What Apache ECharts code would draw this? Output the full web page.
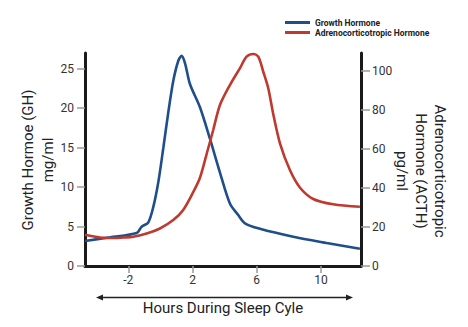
<!DOCTYPE html>
<html>
<head>
<meta charset="utf-8">
<script src="https://cdn.jsdelivr.net/npm/echarts@6/dist/echarts.min.js"></script>
<style>
html,body{margin:0;padding:0;background:#fff;}
#chart{width:468px;height:327px;}
</style>
</head>
<body>
<div id="chart"></div>
<script>
// ---- data ----
var seriesNames = ['Growth Hormone', 'Adrenocorticotropic Hormone'];
var xTicks = [-2, 2, 6, 10];
var ghTicks = [0, 5, 10, 15, 20, 25];
var acthTicks = [0, 20, 40, 60, 80, 100];

var ghX = [-4.7, -3.14, -1.48, -1.17, -0.76, -0.44, -0.13, 0.18, 0.49, 0.80, 1.11, 1.32, 1.53, 1.84, 2.47, 3.09, 3.71, 4.33, 4.85, 5.27, 6.20, 8.28, 10.36, 12.43];
var ghY = [3.17, 3.64, 4.18, 4.98, 5.51, 7.52, 10.65, 14.96, 19.46, 23.45, 25.99, 26.64, 25.73, 23.07, 20.09, 16.10, 11.85, 7.92, 6.46, 5.41, 4.72, 3.71, 2.92, 2.19];

var acthX = [-4.7, -3.77, -2.94, -2.21, -1.69, -0.86, -0.03, 0.80, 1.42, 2.05, 2.47, 2.88, 3.29, 3.71, 4.33, 4.96, 5.37, 5.79, 6.10, 6.41, 6.72, 7.03, 7.45, 8.07, 8.69, 9.52, 10.77, 12.43];
var acthY = [16.0, 14.6, 14.3, 14.6, 15.0, 16.6, 19.2, 23.5, 28.7, 37.9, 45.3, 57.3, 69.6, 82.4, 92.6, 101.3, 107.1, 108.5, 107.1, 99.4, 91.0, 77.8, 62.8, 49.1, 40.2, 34.3, 31.6, 30.3];

function pairs(xs, ys) {
  var out = [];
  for (var i = 0; i < xs.length; i++) out.push([xs[i], ys[i]]);
  return out;
}

var chart = echarts.init(document.getElementById('chart'), null, {renderer: 'svg'});

var axisLineStyle = {color: '#1a1a1a', width: 3};
var tickStyle = {color: '#9a9a9a', width: 1.5};
var labelStyle = {color: '#333', fontSize: 12, fontFamily: 'Roboto'};

var option = {
  backgroundColor: '#fff',
  animation: false,
  grid: {left: 85, right: 107, top: 53, bottom: 61, containLabel: false},
  legend: {
    data: seriesNames,
    orient: 'vertical',
    left: 280,
    top: 13,
    icon: 'rect',
    itemWidth: 25,
    itemHeight: 3,
    itemGap: 1,
    textStyle: {fontSize: 8.5, fontWeight: 'bold', color: '#222', fontFamily: 'Roboto'}
  },
  xAxis: {
    type: 'value',
    min: -4.7,
    max: 12.5,
    axisLine: {show: true, onZero: false, lineStyle: axisLineStyle},
    axisTick: {show: true, length: 7, lineStyle: tickStyle, customValues: xTicks},
    axisLabel: Object.assign({margin: 8, customValues: xTicks}, labelStyle),
    splitLine: {show: false}
  },
  yAxis: [{
    type: 'value',
    min: 0,
    max: 27,
    position: 'left',
    axisLine: {show: true, onZero: false, lineStyle: axisLineStyle},
    axisTick: {show: true, length: 8, lineStyle: tickStyle, customValues: ghTicks},
    axisLabel: Object.assign({margin: 11, customValues: ghTicks}, labelStyle),
    splitLine: {show: false}
  }, {
    type: 'value',
    min: 0,
    max: 109,
    position: 'right',
    axisLine: {show: true, onZero: false, lineStyle: axisLineStyle},
    axisTick: {show: true, length: 9, lineStyle: tickStyle, customValues: acthTicks},
    axisLabel: Object.assign({margin: 11, customValues: acthTicks}, labelStyle),
    splitLine: {show: false}
  }],
  series: [{
    name: seriesNames[0],
    type: 'line',
    yAxisIndex: 0,
    data: pairs(ghX, ghY),
    smooth: 0.3,
    showSymbol: false,
    itemStyle: {color: '#1f4f8a'},
    lineStyle: {color: '#1f4f8a', width: 2.6}
  }, {
    name: seriesNames[1],
    type: 'line',
    yAxisIndex: 1,
    data: pairs(acthX, acthY),
    smooth: 0.3,
    showSymbol: false,
    itemStyle: {color: '#c0392f'},
    lineStyle: {color: '#c0392f', width: 2.6}
  }],
  graphic: [{
    type: 'text',
    x: 38, y: 160,
    rotation: Math.PI / 2,
    style: {
      text: 'Growth Hormoe (GH)\nmg/ml',
      fill: '#222',
      font: '15px Roboto',
      lineHeight: 20,
      align: 'center',
      verticalAlign: 'middle'
    }
  }, {
    type: 'text',
    x: 421, y: 171,
    rotation: -Math.PI / 2,
    style: {
      text: 'Adrenocorticotropic\nHormone (ACTH)\npg/ml',
      fill: '#222',
      font: '15px Roboto',
      lineHeight: 19,
      align: 'center',
      verticalAlign: 'middle'
    }
  }, {
    type: 'text',
    x: 223, y: 308,
    style: {
      text: 'Hours During Sleep Cyle',
      fill: '#222',
      font: '15px Roboto',
      align: 'center',
      verticalAlign: 'middle'
    }
  }, {
    type: 'line',
    shape: {x1: 100, y1: 297.5, x2: 349, y2: 297.5},
    style: {stroke: '#222', lineWidth: 1.5}
  }, {
    type: 'polygon',
    shape: {points: [[96, 297.5], [103, 294.5], [103, 300.5]]},
    style: {fill: '#222'}
  }, {
    type: 'polygon',
    shape: {points: [[353, 297.5], [346, 294.5], [346, 300.5]]},
    style: {fill: '#222'}
  }]
};
chart.setOption(option);
</script>
</body>
</html>
